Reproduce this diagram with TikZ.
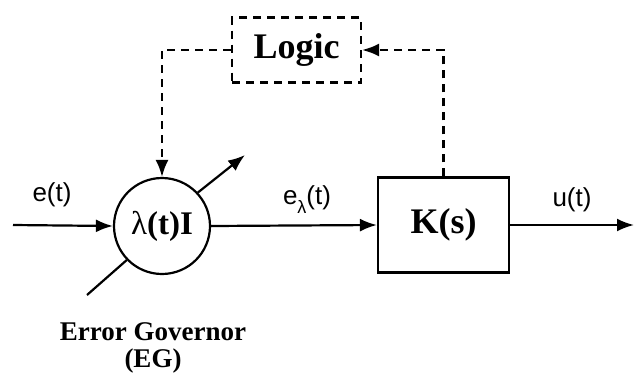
\documentclass[tikz,border=0pt]{standalone}
\usepackage{fontspec}
\setmainfont{Liberation Serif}
\newfontfamily\helv{Liberation Sans}
\usetikzlibrary{arrows.meta}
\begin{document}
\begin{tikzpicture}[x=1pt,y=-1pt,
  line width=2.2pt,
  tip/.style={-{Latex[length=17pt,width=13pt]}},
  dsh/.style={dash pattern=on 8pt off 6pt},
  sig/.style={font=\helv\fontsize{26}{26}\selectfont, inner sep=0pt},
  blk/.style={draw, font=\bfseries\fontsize{36}{36}\selectfont, inner sep=0pt}]
\useasboundingbox (0,0) rectangle (634,381);
\node[blk, dsh, minimum width=129pt, minimum height=65pt] (logic) at (296.5,50) {Logic};
\node[blk, minimum width=131pt, minimum height=95pt] (K) at (443.5,225) {K(s)};
\node[draw, circle, minimum size=96pt, inner sep=0pt, font=\fontsize{33}{33}\selectfont] (eg) at (162,226) {λ\textbf{(t)I}};
\coordinate (in) at (13,225);
\coordinate (out) at (634,225);
\coordinate (up) at (245,155);
\coordinate (dn) at (87,295);
\draw[tip] (in) -- (eg.west);
\draw[tip] (eg.east) -- (K.west);
\draw[tip] (K.east) -- (out);
\draw[tip] (eg.43) -- (up);
\draw (eg.224) -- (dn);
\draw[dsh, tip] (logic.west) -| (eg.north);
\draw[dsh, tip] (K.north) |- (logic.east);
\node[sig] (et) at (52,195) {e(t)};
\node[sig] (elt) at (307,200) {e\raisebox{-0.35em}{\fontsize{18}{18}\selectfont λ}(t)};
\node[sig] (ut) at (572,200) {u(t)};
\node[font=\bfseries\fontsize{27}{27}\selectfont, align=center, inner sep=0pt] (lab) at (153,348) {Error Governor\\(EG)};
\end{tikzpicture}
\end{document}
